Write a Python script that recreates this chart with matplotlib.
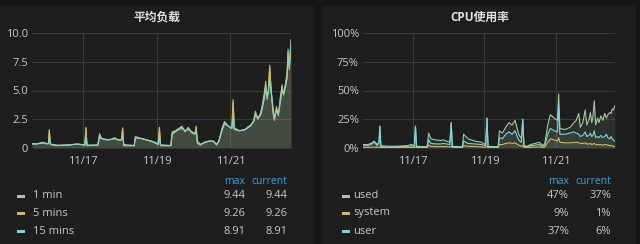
"""
Grafana-style dashboard row: load average + CPU usage, dark theme.
"""
import matplotlib
matplotlib.use("Agg")
import matplotlib.pyplot as plt
import matplotlib.dates as mdates
from matplotlib.patches import Rectangle
import pandas as pd

plt.rcParams["font.family"] = ["Open Sans", "Noto Sans CJK SC", "DejaVu Sans"]

# ── palette ───────────────────────────────────────────────────────────────────
BG = "#161616"
PANEL = "#1f1e1e"
GRID = "#3a3a3a"
TEXT = "#c8c8c8"
HEAD = "#33a2e5"
GREEN = "#a3c9a0"
YELLOW = "#d9b553"
CYAN = "#7fd3d8"

W, H = 640, 244

# ── data (hours after 11/15 00:00) ──────────────────────────────────────────────
hours = [14.5, 17.5, 20, 22, 24, 25.2, 25.8, 26.5, 31, 37, 44, 47, 49, 49.7, 50.4,
         57.5, 58.6, 60, 63.5, 66.5, 68.5, 70.5, 72.8, 73.7, 74.4, 81.2, 82, 85,
         89.5, 94, 96.8, 97.7, 98.4, 105.2, 106, 108, 110.3, 112.4, 114.5, 116.5,
         119, 120.8, 121.7, 122.5, 124.5, 127, 130, 133, 135, 136.5, 138.5, 140.2,
         142.8, 145, 145.8, 146.6, 150, 153.5, 156, 157.5, 159.3, 160.3, 162,
         163.6, 164.7, 166.2, 167.1, 168, 168.8, 169.7, 170.6, 171.9, 172.8,
         174.1, 175.4, 176.7, 177.8, 178.8, 180.2, 181, 181.7, 182.5, 183.6]

load_1 = [0.38, 0.35, 0.45, 0.5, 0.35, 0.4, 1.6, 0.3, 0.2, 0.25, 0.35, 0.3, 0.25, 1.8,
          0.2, 0.25, 1.25, 0.8, 0.7, 0.75, 0.9, 0.7, 0.7, 1.75, 0.2, 0.2, 1.0, 0.85,
          0.7, 0.5, 0.3, 1.8, 0.2, 0.2, 1.4, 1.5, 1.7, 1.9, 1.4, 1.8, 1.3, 1.2, 1.9,
          0.4, 0.25, 0.5, 0.6, 0.6, 0.25, 0.6, 1.7, 2.3, 1.9, 1.7, 4.2, 1.6, 1.5,
          1.6, 1.9, 2.0, 2.4, 3.2, 2.5, 3.0, 3.6, 4.8, 5.8, 4.2, 5.0, 7.2, 5.0, 3.0,
          2.4, 3.6, 2.8, 4.5, 5.5, 4.6, 5.8, 6.5, 8.6, 6.8, 9.44]
load_5 = [0.36, 0.36, 0.42, 0.46, 0.38, 0.38, 1.5, 0.32, 0.22, 0.25, 0.33, 0.3, 0.26,
          1.7, 0.22, 0.25, 1.1, 0.82, 0.72, 0.75, 0.85, 0.72, 0.7, 1.65, 0.22, 0.2,
          0.95, 0.85, 0.7, 0.52, 0.32, 1.7, 0.22, 0.2, 1.3, 1.45, 1.65, 1.8, 1.45,
          1.7, 1.35, 1.2, 1.8, 0.45, 0.27, 0.48, 0.6, 0.58, 0.28, 0.6, 1.6, 2.2, 1.9,
          1.7, 4.0, 1.65, 1.5, 1.6, 1.85, 2.0, 2.35, 3.0, 2.6, 2.9, 3.5, 4.6, 5.5,
          4.4, 4.9, 7.0, 5.1, 3.2, 2.5, 3.4, 2.9, 4.3, 5.3, 4.7, 5.6, 6.3, 8.3, 7.0,
          9.26]
load_15 = [0.35, 0.36, 0.4, 0.43, 0.4, 0.38, 0.9, 0.35, 0.24, 0.25, 0.32, 0.3, 0.27,
           1.0, 0.26, 0.25, 0.9, 0.82, 0.73, 0.75, 0.8, 0.73, 0.7, 1.0, 0.3, 0.22,
           0.85, 0.84, 0.7, 0.55, 0.35, 1.0, 0.28, 0.22, 1.15, 1.4, 1.6, 1.7, 1.5,
           1.6, 1.4, 1.25, 1.4, 0.6, 0.32, 0.46, 0.58, 0.57, 0.33, 0.58, 1.45, 2.1,
           1.9, 1.7, 2.6, 1.75, 1.5, 1.58, 1.8, 1.95, 2.3, 2.8, 2.6, 2.8, 3.3, 4.3,
           5.1, 4.5, 4.8, 5.9, 5.0, 3.5, 2.7, 3.2, 3.0, 4.0, 5.0, 4.7, 5.4, 6.0, 7.8,
           7.1, 8.91]

cpu_used = [3, 3, 4, 6, 3, 5, 19, 2, 1.5, 1.5, 2, 3, 2, 19, 1.5, 1, 13, 8, 7, 6.5, 7,
            6, 5, 22, 1.5, 1, 12, 8, 6, 5, 3, 26, 1.5, 1, 15, 13, 18, 22, 20, 24, 12,
            8, 25, 2, 1.5, 3, 4, 5, 2, 4, 20, 29, 26, 24, 47, 17, 16, 18, 22, 24, 30,
            18, 22, 33, 20, 25, 31, 22, 27, 41, 20, 26, 22, 28, 24, 30, 26, 29, 31,
            30, 34, 33, 37]
cpu_system = [0.5, 0.5, 0.6, 0.8, 0.5, 0.6, 1, 0.4, 0.4, 0.4, 0.5, 0.5, 0.4, 1, 0.4,
              0.4, 2.5, 1.5, 1.2, 1.2, 1.3, 1.1, 1, 1.5, 0.4, 0.4, 2, 1.5, 1.2, 1,
              0.6, 1.5, 0.4, 0.4, 3, 3, 4, 4.5, 4, 4.5, 2.5, 1.5, 2, 0.5, 0.4, 0.6,
              0.8, 1, 0.5, 0.8, 5, 8, 7, 6, 9, 5, 4.5, 4.5, 4.8, 5, 4.5, 4, 4, 4.5,
              3.5, 3.5, 4, 3, 3.5, 4, 3, 3, 2.8, 3, 2.5, 2.8, 3, 2.5, 2.2, 2, 2, 1.5, 1]
cpu_user = [2, 2, 3, 5, 2, 4, 19, 1, 1, 1, 1.5, 2, 1.5, 19, 1, 0.8, 7, 4, 3.5, 3.5, 4,
            3.5, 3, 22, 1, 0.8, 6, 4, 3.5, 3, 2, 26, 1, 0.8, 9, 8, 12, 14, 12, 15, 7,
            5, 25, 1.5, 1, 2, 2.5, 3, 1.5, 2.5, 12, 17, 15, 14, 37, 12, 12, 13, 14,
            13, 12, 10, 11, 14, 10, 11, 13, 10, 11, 15, 9, 10, 9, 11, 9, 10, 12, 9, 8,
            10, 8, 7, 6]

load_names = ["1 min", "5 mins", "15 mins"]
cpu_names = ["used", "system", "user"]
SERIES_COLORS = [GREEN, YELLOW, CYAN]

times = pd.Timestamp("2017-11-15") + pd.to_timedelta(hours, unit="h")


def _fx(px):
    return px / W


def _fy(py):
    return 1 - py / H


def _panel(fig, x0, x1, title, title_x):
    fig.add_artist(Rectangle((_fx(x0), 0), _fx(x1 - x0), _fy(6), transform=fig.transFigure,
                             facecolor=PANEL, edgecolor="none", zorder=0))
    fig.text(_fx(title_x), _fy(17), title, ha="center", va="center",
             fontsize=8.5, color="#e0e0e0", weight="bold")


def _graph(fig, rect, series, ylim, yticks, ylabels):
    ax = fig.add_axes(rect)
    ax.set_facecolor("none")
    for vals, c in zip(series, SERIES_COLORS):
        ax.fill_between(times, vals, 0, color=c, alpha=0.1, linewidth=0)
        ax.plot(times, vals, color=c, linewidth=0.8)
    ax.set_xlim(times[0], times[-1])
    ax.set_ylim(*ylim)
    ax.set_yticks(yticks)
    ax.set_yticklabels(ylabels)
    ax.xaxis.set_major_locator(mdates.DayLocator(bymonthday=[17, 19, 21]))
    ax.xaxis.set_major_formatter(mdates.DateFormatter("%m/%d"))
    ax.grid(True, color=GRID, linewidth=0.8)
    ax.set_axisbelow(True)
    for s in ax.spines.values():
        s.set_visible(False)
    ax.tick_params(length=0, colors=TEXT, labelsize=8, pad=3)
    ax.tick_params(axis="x", pad=6)
    return ax


def _legend(fig, swatch_x, label_x, max_x, cur_x, names, series, fmt):
    fig.text(_fx(max_x), _fy(181), "max", ha="right", va="center", fontsize=7.5, color=HEAD)
    fig.text(_fx(cur_x), _fy(181), "current", ha="right", va="center", fontsize=7.5, color=HEAD)
    for i, (name, vals, c) in enumerate(zip(names, series, SERIES_COLORS)):
        y = [196, 213, 231][i]
        fig.add_artist(Rectangle((_fx(swatch_x), _fy(y + 1.5)), _fx(8), 3 / H,
                                 transform=fig.transFigure, facecolor=c, edgecolor="none"))
        fig.text(_fx(label_x), _fy(y), name, ha="left", va="center", fontsize=8, color=TEXT)
        fig.text(_fx(max_x), _fy(y), fmt(max(vals)), ha="right", va="center",
                 fontsize=8, color=TEXT)
        fig.text(_fx(cur_x), _fy(y), fmt(vals[-1]), ha="right", va="center",
                 fontsize=8, color=TEXT)


fig = plt.figure(figsize=(W / 100, H / 100), dpi=100, facecolor=BG)

# ═══ left: load average ═══════════════════════════════════════════════════════
_panel(fig, 0, 314, "平均负载", 157)
_graph(fig, [_fx(32), _fy(148), _fx(259), 115 / H],
       [load_1, load_5, load_15], (0, 10),
       [0, 2.5, 5, 7.5, 10], ["0", "2.5", "5.0", "7.5", "10.0"])
_legend(fig, 17, 33, 245, 287, load_names, [load_1, load_5, load_15],
        lambda v: f"{v:.2f}")

# ═══ right: CPU usage ═════════════════════════════════════════════════════════
_panel(fig, 322, 636, "CPU使用率", 480)
_graph(fig, [_fx(363), _fy(148), _fx(252), 115 / H],
       [cpu_used, cpu_system, cpu_user], (0, 100),
       [0, 25, 50, 75, 100], ["0%", "25%", "50%", "75%", "100%"])
_legend(fig, 342, 353, 569, 611, cpu_names, [cpu_used, cpu_system, cpu_user],
        lambda v: f"{v:.0f}%")

fig.savefig("out.png", dpi=100, facecolor=BG)
